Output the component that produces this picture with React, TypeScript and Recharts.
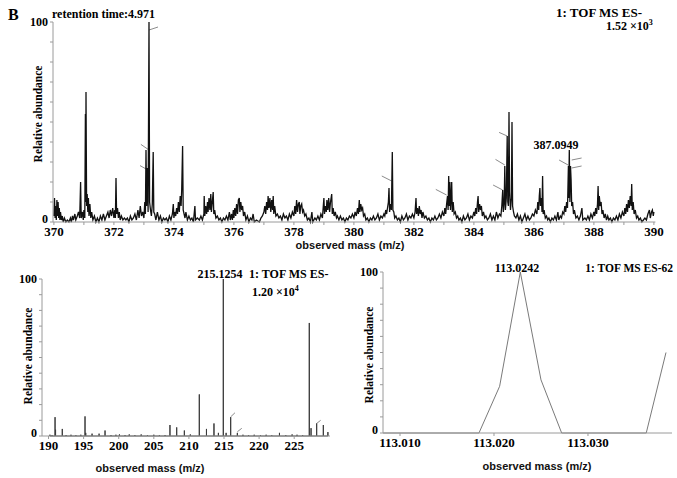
import { LineChart, Line, XAxis, YAxis, ReferenceLine } from "recharts";

type Pt = [number, number];

// upper spectrum, m/z 370-390, profile as [m/z, relative abundance %]
const TOP_370: Pt[] = [
  [370.0, 3], [370.02, 12], [370.04, 2], [370.06, 8], [370.08, 1], [370.1, 11], [370.12, 3], [370.14, 10],
  [370.16, 2], [370.18, 7], [370.2, 1], [370.22, 5], [370.25, 1], [370.28, 3], [370.31, 0], [370.35, 2],
  [370.4, 0], [370.45, 1], [370.5, 0], [370.55, 2], [370.58, 0], [370.62, 3], [370.65, 1], [370.7, 4],
  [370.73, 1], [370.78, 3], [370.82, 5], [370.86, 2], [370.89, 20], [370.91, 2], [370.95, 5], [370.98, 1],
];
const TOP_371: Pt[] = [
  [371.0, 6], [371.03, 2], [371.05, 54], [371.06, 10], [371.07, 65], [371.09, 8], [371.11, 14], [371.13, 5],
  [371.15, 12], [371.17, 3], [371.2, 9], [371.23, 2], [371.26, 5], [371.3, 1], [371.35, 3], [371.4, 0],
  [371.45, 2], [371.5, 0], [371.55, 3], [371.6, 1], [371.65, 4], [371.7, 1], [371.75, 3], [371.8, 5],
  [371.84, 2], [371.88, 6], [371.92, 3], [371.96, 7],
];
const TOP_372: Pt[] = [
  [372.0, 2], [372.03, 6], [372.05, 2], [372.07, 22], [372.09, 4], [372.12, 7], [372.15, 2], [372.18, 5],
  [372.21, 1], [372.25, 3], [372.3, 1], [372.35, 2], [372.4, 1], [372.45, 2], [372.5, 0], [372.55, 3],
  [372.6, 1], [372.65, 2], [372.7, 4], [372.75, 1], [372.8, 6], [372.84, 2], [372.88, 8], [372.92, 3],
  [372.96, 5],
];
const TOP_373: Pt[] = [
  [373.0, 2], [373.03, 10], [373.05, 4], [373.07, 36], [373.09, 8], [373.12, 27], [373.14, 5], [373.17, 100],
  [373.19, 10], [373.22, 6], [373.25, 3], [373.28, 9], [373.31, 35], [373.33, 5], [373.36, 4], [373.4, 1],
  [373.45, 5], [373.5, 1], [373.55, 3], [373.6, 0], [373.65, 2], [373.7, 1], [373.75, 2], [373.8, 0],
  [373.85, 3], [373.9, 1], [373.95, 4], [373.98, 9],
];
const TOP_374: Pt[] = [
  [374.0, 2], [374.03, 5], [374.06, 3], [374.09, 7], [374.12, 4], [374.15, 10], [374.18, 5], [374.21, 13],
  [374.24, 8], [374.26, 16], [374.29, 38], [374.31, 6], [374.34, 4], [374.37, 2], [374.4, 5], [374.45, 1],
  [374.5, 3], [374.55, 1], [374.6, 2], [374.65, 0], [374.7, 8], [374.72, 1], [374.78, 2], [374.85, 1],
  [374.9, 3], [374.95, 1],
];
const TOP_375: Pt[] = [
  [375.0, 4], [375.01, 13], [375.03, 3], [375.06, 8], [375.09, 4], [375.12, 10], [375.14, 5], [375.17, 12],
  [375.2, 6], [375.23, 14], [375.25, 5], [375.28, 10], [375.31, 15], [375.33, 4], [375.36, 6], [375.4, 2],
  [375.45, 3], [375.5, 1], [375.55, 2], [375.6, 0], [375.65, 2], [375.7, 1], [375.75, 3], [375.8, 1],
  [375.85, 5], [375.88, 1], [375.92, 4], [375.95, 1], [375.98, 6],
];
const TOP_376: Pt[] = [
  [376.0, 2], [376.03, 7], [376.06, 3], [376.09, 9], [376.12, 4], [376.15, 11], [376.18, 12], [376.2, 5],
  [376.23, 10], [376.26, 6], [376.29, 8], [376.32, 3], [376.36, 5], [376.4, 1], [376.45, 3], [376.5, 0],
  [376.55, 2], [376.6, 1], [376.64, 4], [376.68, 0], [376.75, 1], [376.85, 0], [376.9, 2], [376.95, 3],
];
const TOP_377: Pt[] = [
  [377.0, 5], [377.03, 8], [377.06, 4], [377.09, 10], [377.12, 6], [377.14, 13], [377.17, 7], [377.2, 12],
  [377.23, 5], [377.26, 11], [377.29, 6], [377.31, 13], [377.33, 4], [377.36, 8], [377.4, 3], [377.45, 4],
  [377.5, 2], [377.55, 3], [377.6, 1], [377.65, 4], [377.7, 2], [377.75, 3], [377.8, 1], [377.85, 4],
  [377.9, 2], [377.95, 5],
];
const TOP_378: Pt[] = [
  [378.0, 3], [378.03, 8], [378.06, 4], [378.09, 11], [378.12, 5], [378.15, 9], [378.18, 10], [378.2, 4],
  [378.23, 8], [378.26, 9], [378.29, 5], [378.32, 6], [378.36, 3], [378.4, 4], [378.45, 1], [378.5, 2],
  [378.55, 0], [378.6, 5], [378.63, 0], [378.7, 2], [378.75, 1], [378.8, 3], [378.85, 1], [378.9, 4],
  [378.95, 2],
];
const TOP_379: Pt[] = [
  [379.0, 12], [379.02, 4], [379.05, 8], [379.08, 5], [379.1, 11], [379.13, 6], [379.16, 12], [379.19, 5],
  [379.22, 10], [379.26, 14], [379.28, 4], [379.31, 7], [379.34, 3], [379.38, 5], [379.42, 2], [379.45, 3],
  [379.5, 1], [379.55, 3], [379.6, 1], [379.65, 2], [379.7, 0], [379.75, 2], [379.8, 1], [379.85, 3],
  [379.9, 2], [379.95, 4],
];
const TOP_380: Pt[] = [
  [380.0, 2], [380.04, 5], [380.08, 3], [380.12, 7], [380.15, 4], [380.18, 11], [380.2, 5], [380.23, 9],
  [380.26, 6], [380.29, 7], [380.32, 3], [380.36, 4], [380.4, 1], [380.45, 2], [380.5, 0], [380.55, 2],
  [380.6, 1], [380.65, 3], [380.7, 1], [380.75, 2], [380.8, 4], [380.85, 1], [380.9, 3], [380.95, 2],
];
const TOP_381: Pt[] = [
  [381.0, 4], [381.03, 3], [381.06, 6], [381.09, 4], [381.12, 7], [381.15, 10], [381.17, 17], [381.19, 5],
  [381.22, 9], [381.25, 6], [381.28, 35], [381.3, 6], [381.33, 5], [381.36, 2], [381.4, 3], [381.45, 1],
  [381.5, 2], [381.55, 0], [381.6, 3], [381.65, 1], [381.7, 2], [381.75, 4], [381.8, 1], [381.85, 3],
  [381.9, 2], [381.95, 4],
];
const TOP_382: Pt[] = [
  [382.0, 2], [382.04, 5], [382.07, 12], [382.09, 4], [382.12, 7], [382.15, 3], [382.18, 8], [382.21, 4],
  [382.24, 6], [382.27, 2], [382.3, 5], [382.35, 2], [382.4, 3], [382.45, 1], [382.5, 2], [382.55, 0],
  [382.6, 2], [382.65, 1], [382.7, 3], [382.75, 1], [382.8, 2], [382.85, 4], [382.9, 2], [382.95, 5],
];
const TOP_383: Pt[] = [
  [383.0, 3], [383.03, 7], [383.06, 4], [383.09, 9], [383.12, 13], [383.14, 6], [383.16, 23], [383.18, 8],
  [383.2, 20], [383.22, 6], [383.24, 12], [383.26, 20], [383.28, 5], [383.31, 10], [383.34, 4], [383.38, 5],
  [383.42, 2], [383.46, 3], [383.5, 1], [383.55, 2], [383.6, 0], [383.65, 3], [383.7, 1], [383.75, 2],
  [383.8, 4], [383.85, 1], [383.9, 3], [383.95, 2],
];
const TOP_384: Pt[] = [
  [384.0, 5], [384.03, 3], [384.06, 7], [384.09, 4], [384.12, 10], [384.14, 13], [384.16, 5], [384.19, 9],
  [384.22, 6], [384.25, 8], [384.28, 3], [384.32, 5], [384.36, 2], [384.4, 3], [384.45, 1], [384.5, 2],
  [384.55, 4], [384.6, 1], [384.65, 3], [384.7, 1], [384.75, 5], [384.8, 2], [384.85, 4], [384.9, 3],
  [384.93, 8], [384.96, 16], [384.98, 5],
];
const TOP_385: Pt[] = [
  [385.01, 10], [385.03, 28], [385.05, 6], [385.08, 12], [385.11, 43], [385.13, 10], [385.15, 8], [385.17, 55],
  [385.19, 15], [385.22, 6], [385.25, 12], [385.27, 50], [385.29, 8], [385.32, 5], [385.35, 3], [385.4, 2],
  [385.45, 4], [385.5, 1], [385.55, 3], [385.6, 0], [385.65, 2], [385.7, 4], [385.75, 1], [385.8, 3],
  [385.85, 1], [385.9, 2], [385.95, 4],
];
const TOP_386: Pt[] = [
  [386.0, 3], [386.05, 6], [386.1, 4], [386.13, 10], [386.16, 6], [386.18, 13], [386.2, 17], [386.22, 8],
  [386.25, 12], [386.27, 5], [386.29, 23], [386.31, 4], [386.34, 6], [386.38, 2], [386.42, 3], [386.46, 1],
  [386.5, 2], [386.55, 0], [386.6, 2], [386.65, 1], [386.7, 3], [386.75, 1], [386.8, 5], [386.83, 1],
  [386.88, 3], [386.92, 2], [386.96, 5],
];
const TOP_387: Pt[] = [
  [387.0, 4], [387.03, 8], [387.06, 5], [387.09, 10], [387.12, 7], [387.15, 28], [387.16, 12], [387.18, 36],
  [387.2, 10], [387.22, 28], [387.24, 21], [387.26, 8], [387.29, 10], [387.32, 4], [387.35, 6], [387.4, 2],
  [387.45, 3], [387.5, 1], [387.55, 3], [387.6, 7], [387.63, 1], [387.7, 2], [387.75, 1], [387.8, 3],
  [387.85, 1], [387.9, 4], [387.95, 2],
];
const TOP_388: Pt[] = [
  [388.0, 5], [388.03, 3], [388.06, 7], [388.09, 4], [388.12, 9], [388.14, 18], [388.16, 6], [388.18, 13],
  [388.21, 8], [388.24, 10], [388.27, 4], [388.3, 6], [388.34, 2], [388.38, 4], [388.42, 1], [388.46, 3],
  [388.5, 1], [388.55, 2], [388.6, 0], [388.65, 2], [388.7, 1], [388.75, 3], [388.8, 1], [388.85, 4],
  [388.9, 2], [388.95, 5],
];
const TOP_389: Pt[] = [
  [389.0, 3], [389.03, 7], [389.06, 4], [389.09, 9], [389.12, 5], [389.15, 11], [389.18, 7], [389.21, 13],
  [389.24, 8], [389.26, 19], [389.28, 6], [389.31, 10], [389.34, 4], [389.38, 6], [389.42, 2], [389.46, 3],
  [389.5, 1], [389.55, 2], [389.6, 0], [389.65, 1], [389.7, 2], [389.75, 1], [389.8, 4], [389.85, 6],
  [389.88, 2], [389.92, 5], [389.95, 6], [389.98, 3], [390.0, 5],
];
const TOP_TICKS = [370, 371, 372, 373, 374, 375, 376, 377, 378, 379, 380, 381, 382, 383, 384, 385, 386, 387, 388, 389, 390];
// label leader strokes: [m/z from, % from, m/z to, % to]
const TOP_LEADERS = [
  [373.17, 96, 373.47, 97.5],
  [372.9, 38.8, 373.17, 36],
  [372.87, 28.2, 373.17, 25.7],
  [380.93, 23, 381.26, 20.5],
  [382.73, 16.3, 383.09, 13.5],
  [384.64, 18.5, 384.96, 16],
  [384.72, 31.3, 385.03, 28.5],
  [384.84, 44.8, 385.11, 43],
  [386.84, 31, 387.14, 28.5],
  [387.26, 31, 387.59, 32],
  [387.26, 27, 387.59, 28],
];

// lower left, centroid sticks m/z 190-230
const LOWER_PEAKS: Pt[] = [
  [190.2, 0.8], [190.5, 0.5], [190.93, 12], [191.0, 4], [191.96, 4.5], [192.5, 0.6], [193.2, 0.8], [193.9, 0.5],
  [194.6, 0.8], [195.2, 12.5], [195.3, 2], [196.2, 1.5], [197.2, 1.5], [198.05, 3.5], [198.9, 0.6], [199.6, 0.8],
  [200.1, 1], [200.9, 0.6], [201.5, 1], [202.3, 0.6], [203.2, 1], [204.1, 0.5], [205.0, 0.8], [205.8, 0.5],
  [206.6, 0.6], [207.3, 7], [208.26, 5.5], [209.35, 3.5], [210.2, 1], [211.48, 26.5], [212.5, 4.5], [213.57, 8],
  [214.2, 2], [214.9, 100], [215.3, 2], [215.95, 12], [216.9, 2], [217.7, 0.8], [218.5, 0.6], [219.3, 0.8],
  [220.2, 0.5], [221.0, 0.8], [221.8, 0.5], [222.9, 2], [223.8, 0.6], [224.7, 1], [225.4, 0.8], [226.2, 0.6],
  [227.15, 72], [227.4, 5], [228.2, 8], [229.15, 7], [229.8, 2.5],
];
const LOWER_TICKS = [190, 195, 200, 205, 210, 215, 220, 225];
const LOWER_LEADERS = [
  [215.95, 12.2, 216.56, 14.8],
  [216.9, 2.7, 217.53, 4.9],
  [228.2, 8, 228.77, 10],
];

// lower right, profile of the 113.0242 peak
const ZOOM_MZ = [113.0082, 113.0184, 113.0206, 113.0228, 113.025, 113.0272, 113.0362, 113.0383];
const ZOOM_AB = [0, 0, 29, 100, 33, 0, 0, 50];
const ZOOM_TICKS = [113.01, 113.02, 113.03];

const Y_TICKS = [0, 10, 20, 30, 40, 50, 60, 70, 80, 90, 100];

const SERIF = '"Liberation Serif", "Times New Roman", serif';
const SANS = '"Liberation Sans", Arial, sans-serif';
const AXIS = "#9a9a9a";

const topData = [
  ...TOP_370, ...TOP_371, ...TOP_372, ...TOP_373, ...TOP_374, ...TOP_375, ...TOP_376,
  ...TOP_377, ...TOP_378, ...TOP_379, ...TOP_380, ...TOP_381, ...TOP_382, ...TOP_383,
  ...TOP_384, ...TOP_385, ...TOP_386, ...TOP_387, ...TOP_388, ...TOP_389,
].map(([mz, ab]) => ({ mz, ab }));

// each stick drawn up from and back down to the baseline
const lowerData = LOWER_PEAKS.flatMap(([mz, ab]) => [
  { mz, ab: 0 },
  { mz, ab },
  { mz, ab: 0 },
]);

const zoomData = ZOOM_MZ.map((mz, i) => ({ mz, ab: ZOOM_AB[i] }));

const yLabel = (v: number) => (v === 0 || v === 100 ? String(v) : "");

// bold Times-like tick text, drawn by hand so the font sticks
function serifTick(size: number, axis: "x" | "y", fmt: (v: number) => string) {
  return (p: any) => {
    const v = p.payload.value;
    // the zero sits a touch high so it clears the first x label
    const dy = axis === "x" ? "0.71em" : v === 0 ? "0.05em" : "0.35em";
    return (
      <text
        x={p.x}
        y={p.y}
        dy={dy}
        textAnchor={axis === "x" ? "middle" : "end"}
        fontFamily={SERIF}
        fontWeight={700}
        fontSize={size}
        fill="#000"
      >
        {fmt(v)}
      </text>
    );
  };
}

function leaders(items: number[][], color: string) {
  return items.map(([x1, y1, x2, y2], i) => (
    <ReferenceLine
      key={`ld-${i}`}
      segment={[
        { x: x1, y: y1 },
        { x: x2, y: y2 },
      ]}
      stroke={color}
      strokeWidth={1}
      ifOverflow="visible"
    />
  ));
}

const layer: React.CSSProperties = { position: "absolute", left: 0, top: 0 };

export default function App() {
  return (
    <div style={{ position: "absolute", left: 0, top: 0, width: 677, height: 478, background: "#fff" }}>
      <div style={layer}>
        <LineChart width={677} height={478} data={topData} margin={{ top: 22, right: 21.6, bottom: 236, left: 13 }}>
          <XAxis
            dataKey="mz"
            type="number"
            domain={[369.97, 390.05]}
            allowDataOverflow
            ticks={TOP_TICKS}
            interval={0}
            height={20}
            stroke={AXIS}
            tickSize={3}
            tick={serifTick(13, "x", (v) => (v % 2 === 0 ? String(v) : ""))}
          />
          <YAxis
            type="number"
            domain={[0, 100]}
            ticks={Y_TICKS}
            interval={0}
            width={40}
            stroke={AXIS}
            tickSize={3}
            tick={serifTick(12, "y", yLabel)}
          />
          {leaders(TOP_LEADERS, "#8c8c8c")}
          <Line dataKey="ab" type="linear" stroke="#111" strokeWidth={1.3} dot={false} isAnimationActive={false} />
        </LineChart>
      </div>

      <div style={layer}>
        <LineChart width={677} height={478} data={lowerData} margin={{ top: 279, right: 347, bottom: 22, left: 12 }}>
          <XAxis
            dataKey="mz"
            type="number"
            domain={[189.07, 230.1]}
            allowDataOverflow
            ticks={LOWER_TICKS}
            interval={0}
            height={20}
            stroke={AXIS}
            tickSize={3}
            tick={serifTick(13, "x", (v) => String(v))}
          />
          <YAxis
            type="number"
            domain={[0, 100]}
            ticks={Y_TICKS}
            interval={0}
            width={30}
            stroke={AXIS}
            tickSize={3}
            tick={serifTick(12, "y", yLabel)}
          />
          {leaders(LOWER_LEADERS, "#8c8c8c")}
          <Line dataKey="ab" type="linear" stroke="#3a3a3a" strokeWidth={1} dot={false} isAnimationActive={false} />
        </LineChart>
      </div>

      <div style={layer}>
        <LineChart width={677} height={478} data={zoomData} margin={{ top: 272, right: 5, bottom: 25, left: 353 }}>
          <XAxis
            dataKey="mz"
            type="number"
            domain={[113.00819, 113.03894]}
            allowDataOverflow
            ticks={ZOOM_TICKS}
            interval={0}
            height={20}
            stroke={AXIS}
            tickSize={3}
            tick={serifTick(13, "x", (v) => v.toFixed(3))}
          />
          <YAxis
            type="number"
            domain={[0, 100]}
            ticks={Y_TICKS}
            interval={0}
            width={30}
            stroke={AXIS}
            tickSize={3}
            tick={serifTick(12, "y", yLabel)}
          />
          <Line dataKey="ab" type="linear" stroke="#7a7a7a" strokeWidth={1} dot={false} isAnimationActive={false} />
        </LineChart>
      </div>

      <svg width={677} height={478} style={{ ...layer, pointerEvents: "none" }}>
        <g fontFamily={SERIF} fontWeight={700} fill="#000">
          <text x={8} y={14} fontSize={16} dominantBaseline="central">B</text>
          <text x={52} y={14} fontSize={12} dominantBaseline="central">retention time:4.971</text>
          <text x={556} y={12} fontSize={13} dominantBaseline="central">1: TOF MS ES-</text>
          <text x={606} y={26} fontSize={12} dominantBaseline="central">
            1.52 ×10<tspan fontSize={8} dy={-4}>3</tspan>
          </text>
          <text x={556} y={145} fontSize={12} textAnchor="middle" dominantBaseline="central">387.0949</text>
          <text x={38} y={114} fontSize={11.5} textAnchor="middle" dominantBaseline="central" transform="rotate(-90 38 114)">
            Relative abundance
          </text>

          <text x={220} y={274} fontSize={12} textAnchor="middle" dominantBaseline="central">215.1254</text>
          <text x={249} y={274} fontSize={12} dominantBaseline="central">1: TOF MS ES-</text>
          <text x={252} y={292} fontSize={12} dominantBaseline="central">
            1.20 ×10<tspan fontSize={8} dy={-4}>4</tspan>
          </text>
          <text x={28} y={356} fontSize={11.5} textAnchor="middle" dominantBaseline="central" transform="rotate(-90 28 356)">
            Relative abundance
          </text>

          <text x={517} y={268} fontSize={12} textAnchor="middle" dominantBaseline="central">113.0242</text>
          <text x={673} y={268} fontSize={11.5} textAnchor="end" dominantBaseline="central">1: TOF MS ES-62</text>
          <text x={369} y={355} fontSize={11.5} textAnchor="middle" dominantBaseline="central" transform="rotate(-90 369 355)">
            Relative abundance
          </text>
        </g>
        <g fontFamily={SANS} fontWeight={700} fontSize={11} fill="#111" textAnchor="middle">
          <text x={350} y={245} dominantBaseline="central">observed mass (m/z)</text>
          <text x={150} y={468} dominantBaseline="central">observed mass (m/z)</text>
          <text x={537} y={466} dominantBaseline="central">observed mass (m/z)</text>
        </g>
      </svg>
    </div>
  );
}
